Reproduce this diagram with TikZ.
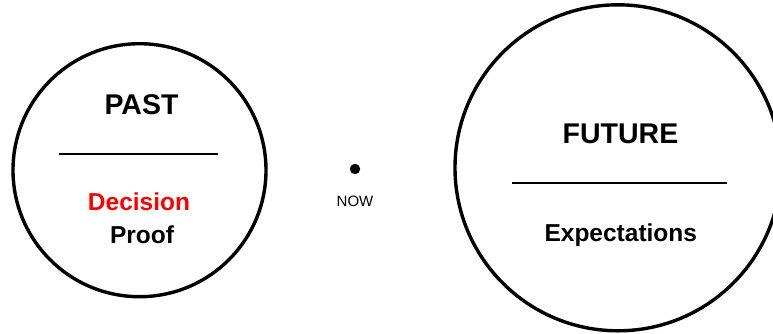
\documentclass[tikz,border=0pt]{standalone}
\usepackage{fontspec}
\setmainfont{Liberation Sans}
\usetikzlibrary{positioning}
\tikzset{
	ring/.style={draw, circle, line width=3.4pt, inner sep=0pt},
	divider/.style={line width=2pt},
	title/.style={anchor=base, font=\fontsize{28.5}{30}\selectfont\bfseries},
	entry/.style={anchor=base, font=\fontsize{24.5}{26}\selectfont\bfseries},
}
\begin{document}
\begin{tikzpicture}[x=1pt, y=-1pt]
		\useasboundingbox (0,0) rectangle (773,333);
		\clip (0,0) rectangle (773,333);
		% the two circles
		\node[ring, minimum size=253pt] (past) at (139.5,170.2) {};
		\node[ring, minimum size=326pt] (future) at (618,167.8) {};
		% past
		\node[title] (pasttitle) at (141.5,114.3) {PAST};
		\draw[divider] (59,154) -- (218,154);
		\node[entry, red] (decision) at (139,210) {Decision};
		\node[entry] (proof) at (142,243.3) {Proof};
		% now
		\fill (355,169) circle (5.2pt) coordinate (nowdot);
		\node[anchor=base, font=\fontsize{15}{16}\selectfont] (now) at (355,206) {NOW};
		% future
		\node[title] (futuretitle) at (620.5,143.3) {FUTURE};
		\draw[divider] (512,183) -- (727,183);
		\node[entry] (expect) at (620.8,241) {Expectations};
	\end{tikzpicture}
\end{document}
